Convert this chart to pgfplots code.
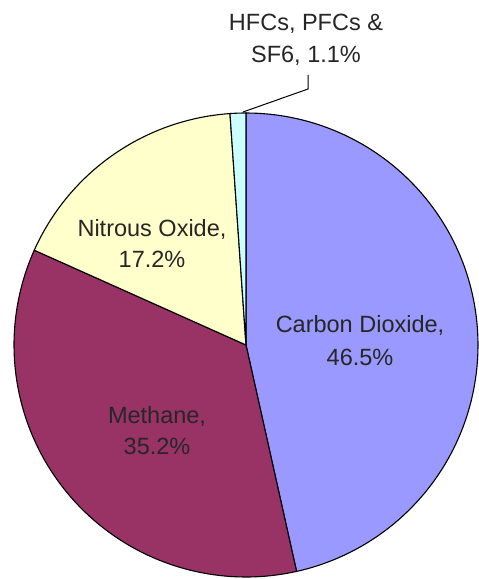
\documentclass[border=0pt]{standalone}
\usepackage{pgfplots}
\pgfplotsset{compat=1.18}
\usepackage{fontspec}
\setmainfont{Liberation Sans}
\definecolor{co2}{HTML}{9999FF}
\definecolor{ch4}{HTML}{993366}
\definecolor{n2o}{HTML}{FFFFCC}
\definecolor{hfc}{HTML}{CCFFFF}
\tikzset{lbl/.style={anchor=base, inner sep=0pt, text=black!85, font=\fontsize{23.5bp}{30bp}\selectfont}}
% shares in percent
\def\vCO{46.5}
\def\vCH{35.2}
\def\vNO{17.2}
\def\vHF{1.1}
\def\cx{246}
\def\cy{345}
\def\rr{232}
\begin{document}
\begin{tikzpicture}
\useasboundingbox (0,0) rectangle (479bp,579bp);
\pgfmathsetmacro{\aA}{90}
\pgfmathsetmacro{\aB}{\aA-3.6*\vCO}
\pgfmathsetmacro{\aC}{\aB-3.6*\vCH}
\pgfmathsetmacro{\aD}{\aC-3.6*\vNO}
\pgfmathsetmacro{\aE}{\aD-3.6*\vHF}
\begin{axis}[at={(0,0)}, anchor=south west, scale only axis,
  width=479bp, height=579bp, xmin=0, xmax=479, ymin=0, ymax=579,
  y dir=reverse, hide axis, clip=false]
\addplot[fill=co2, draw=black, line width=1.1bp, domain=\aB:\aA, samples=120, variable=\t]
  ({\cx+\rr*cos(t)}, {\cy-\rr*sin(t)}) -- (axis cs:\cx,\cy) -- cycle;
\addplot[fill=ch4, draw=black, line width=1.1bp, domain=\aC:\aB, samples=100, variable=\t]
  ({\cx+\rr*cos(t)}, {\cy-\rr*sin(t)}) -- (axis cs:\cx,\cy) -- cycle;
\addplot[fill=n2o, draw=black, line width=1.1bp, domain=\aD:\aC, samples=60, variable=\t]
  ({\cx+\rr*cos(t)}, {\cy-\rr*sin(t)}) -- (axis cs:\cx,\cy) -- cycle;
\addplot[fill=hfc, draw=black, line width=1.1bp, domain=\aE:\aD, samples=10, variable=\t]
  ({\cx+\rr*cos(t)}, {\cy-\rr*sin(t)}) -- (axis cs:\cx,\cy) -- cycle;
% leader line
\addplot[black, line width=1bp] coordinates {(308,75) (308,89) (243,112)};
% labels
\node[lbl] at (axis cs:306,31) {HFCs, PFCs \&};
\node[lbl] at (axis cs:306,63) {SF6, 1.1\%};
\node[lbl] at (axis cs:152,236) {Nitrous Oxide,};
\node[lbl] at (axis cs:152,267) {17.2\%};
\node[lbl] at (axis cs:360,332) {Carbon Dioxide,};
\node[lbl] at (axis cs:360,365) {46.5\%};
\node[lbl] at (axis cs:157,423) {Methane,};
\node[lbl] at (axis cs:157,454) {35.2\%};
\end{axis}
\end{tikzpicture}
\end{document}
